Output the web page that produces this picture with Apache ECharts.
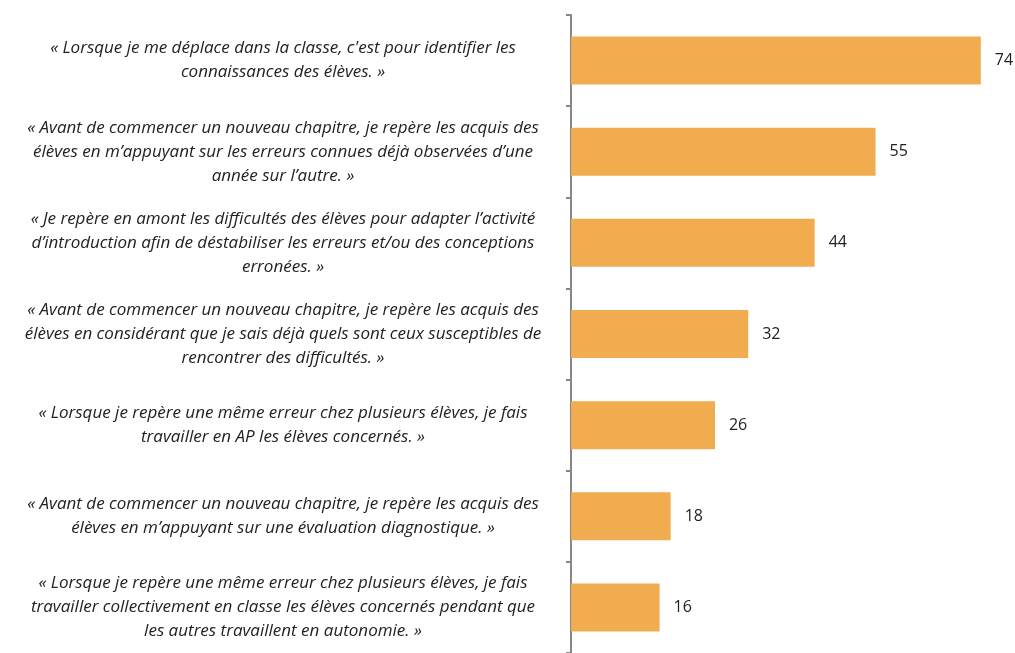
<!DOCTYPE html>
<html><head><meta charset="utf-8">
<script src="https://cdn.jsdelivr.net/npm/echarts@6/dist/echarts.min.js"></script>
<style>html,body{margin:0;padding:0;background:#fff}#c{width:1015px;height:653px}</style>
</head><body><div id="c"></div>
<script>
const categories = [
  "« Lorsque je me déplace dans la classe, c'est pour identifier les\nconnaissances des élèves. »",
  "« Avant de commencer un nouveau chapitre, je repère les acquis des\nélèves en m’appuyant sur les erreurs connues déjà observées d’une\nannée sur l’autre. »",
  "« Je repère en amont les difficultés des élèves pour adapter l’activité\nd’introduction afin de déstabiliser les erreurs et/ou des conceptions\nerronées. »",
  "« Avant de commencer un nouveau chapitre, je repère les acquis des\nélèves en considérant que je sais déjà quels sont ceux susceptibles de\nrencontrer des difficultés. »",
  "« Lorsque je repère une même erreur chez plusieurs élèves, je fais\ntravailler en AP les élèves concernés. »",
  "« Avant de commencer un nouveau chapitre, je repère les acquis des\nélèves en m’appuyant sur une évaluation diagnostique. »",
  "« Lorsque je repère une même erreur chez plusieurs élèves, je fais\ntravailler collectivement en classe les élèves concernés pendant que\nles autres travaillent en autonomie. »"
];
const values = [74, 55, 44, 32, 26, 18, 16];

const chart = echarts.init(document.getElementById('c'));
chart.setOption({
  animation: false,
  grid: { left: 571, right: 1, top: 15, bottom: -6, containLabel: false },
  xAxis: { type: 'value', min: 0, max: 80, show: false },
  yAxis: {
    type: 'category', data: categories, inverse: true,
    axisLine: { lineStyle: { color: '#868686', width: 2 } },
    axisTick: { show: true, length: 5, lineStyle: { color: '#868686', width: 2 } },
    axisLabel: {
      margin: 288, align: 'center', fontFamily: 'Open Sans', fontStyle: 'italic',
      fontSize: 17, lineHeight: 24, color: '#222222'
    }
  },
  series: [{
    type: 'bar', data: values, barWidth: 48,
    itemStyle: { color: '#F0AC4E' },
    label: { show: true, position: 'right', distance: 14, color: '#222222',
      fontFamily: 'Open Sans', fontSize: 16 }
  }]
});
</script></body></html>
